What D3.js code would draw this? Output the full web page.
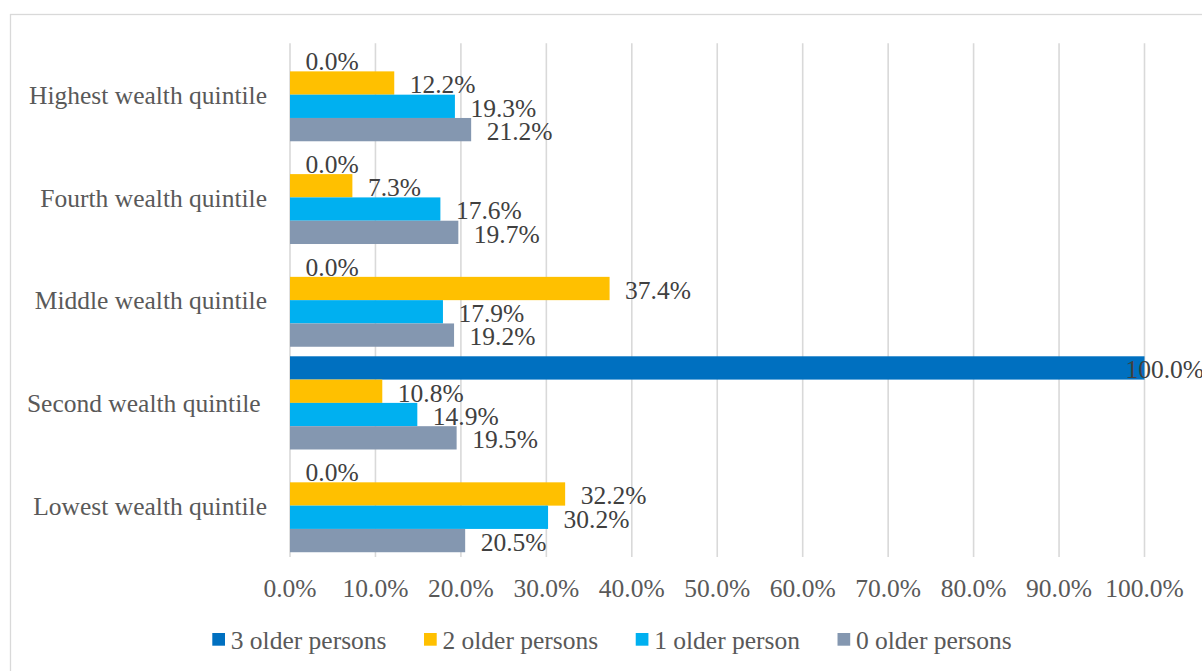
<!DOCTYPE html>
<html>
<head>
<meta charset="utf-8">
<script src="https://cdn.jsdelivr.net/npm/d3@7"></script>
<style>
  html, body { margin: 0; padding: 0; background: #fff; overflow: hidden; }
  svg { display: block; font-family: "Liberation Serif", "Times New Roman", serif; }
</style>
</head>
<body>
<svg id="chart" width="1202" height="671"></svg>
<script>
  // categories, top to bottom
  var categories = [
    "Highest wealth quintile",
    "Fourth wealth quintile",
    "Middle wealth quintile",
    "Second wealth quintile ",
    "Lowest wealth quintile"
  ];
  // series, in drawing order inside each group (top to bottom)
  var seriesNames = ["3 older persons", "2 older persons", "1 older person", "0 older persons"];
  var seriesColors = ["#0070C0", "#FFC000", "#00B0F0", "#8497B0"];

  // values as fractions, one array per series, following categories
  var threeOlder = [0.000, 0.000, 0.000, 1.000, 0.000];
  var twoOlder   = [0.122, 0.073, 0.374, 0.108, 0.322];
  var oneOlder   = [0.193, 0.176, 0.179, 0.149, 0.302];
  var zeroOlder  = [0.212, 0.197, 0.192, 0.195, 0.205];

  var xTicks = [0, 0.1, 0.2, 0.3, 0.4, 0.5, 0.6, 0.7, 0.8, 0.9, 1.0];

  var seriesValues = [threeOlder, twoOlder, oneOlder, zeroOlder];

  var svg = d3.select("#chart");
  var fontSize = 25.5;
  var textGray = "#595959";
  var labelGray = "#404040";

  /* ---- frame ---- */
  svg.append("rect")
    .attr("x", 10.5).attr("y", 14.5)
    .attr("width", 1220).attr("height", 700)
    .attr("fill", "#fff")
    .attr("stroke", "#D9D9D9")
    .attr("stroke-width", 1.3);

  /* ---- scales ---- */
  var x = d3.scaleLinear().domain([0, 1]).range([290, 1144.5]);
  var y = d3.scaleBand().domain(categories).range([43.3, 557]).padding(0);
  var gap = y.bandwidth() - 4 * 23.3;
  var ySub = d3.scaleBand()
    .domain(d3.range(seriesNames.length))
    .range([gap / 2, y.bandwidth() - gap / 2])
    .padding(0);

  /* ---- gridlines ---- */
  svg.append("g")
    .selectAll("line")
    .data(xTicks)
    .join("line")
    .attr("x1", function (d) { return x(d); })
    .attr("x2", function (d) { return x(d); })
    .attr("y1", 43.3)
    .attr("y2", 557)
    .attr("stroke", "#D9D9D9")
    .attr("stroke-width", 1.6);

  /* ---- bars ---- */
  var rows = [];
  categories.forEach(function (c, ci) {
    seriesValues.forEach(function (vals, si) {
      rows.push({ cat: c, s: si, v: vals[ci] });
    });
  });

  svg.append("g")
    .selectAll("rect")
    .data(rows)
    .join("rect")
    .attr("x", x(0))
    .attr("y", function (d) { return y(d.cat) + ySub(d.s); })
    .attr("width", function (d) { return x(d.v) - x(0); })
    .attr("height", ySub.bandwidth())
    .attr("fill", function (d) { return seriesColors[d.s]; });

  /* ---- data labels (outside end, kept inside the chart) ---- */
  var fmt = d3.format(".1%");
  var labels = svg.append("g")
    .selectAll("text")
    .data(rows)
    .join("text")
    .attr("font-size", fontSize)
    .attr("fill", labelGray)
    .attr("y", function (d) { return y(d.cat) + ySub(d.s) + ySub.bandwidth() / 2 + 10.3; })
    .text(function (d) { return fmt(d.v); });

  labels.attr("x", function (d) {
    var w = this.getComputedTextLength();
    var px = x(d.v) + 15.5;
    if (px + w > 1204) px = 1204 - w;
    return px;
  });

  /* ---- category labels ---- */
  svg.append("g")
    .selectAll("text")
    .data(categories)
    .join("text")
    .attr("x", 267)
    .attr("y", function (d) { return y(d) + y.bandwidth() / 2 + 9.3; })
    .attr("text-anchor", "end")
    .attr("font-size", fontSize)
    .attr("fill", textGray)
    .style("white-space", "pre")
    .text(function (d) { return d; });

  /* ---- x axis tick labels ---- */
  svg.append("g")
    .selectAll("text")
    .data(xTicks)
    .join("text")
    .attr("x", function (d) { return x(d); })
    .attr("y", 597)
    .attr("text-anchor", "middle")
    .attr("font-size", fontSize)
    .attr("fill", textGray)
    .text(function (d) { return fmt(d); });

  /* ---- legend ---- */
  var legend = svg.append("g");
  var lx = 212.3;
  seriesNames.forEach(function (name, i) {
    legend.append("rect")
      .attr("x", lx).attr("y", 633)
      .attr("width", 12.7).attr("height", 12.7)
      .attr("fill", seriesColors[i]);
    var t = legend.append("text")
      .attr("x", lx + 18.4)
      .attr("y", 648.5)
      .attr("font-size", fontSize)
      .attr("fill", textGray)
      .text(name);
    lx = lx + 18.4 + t.node().getComputedTextLength() + 37.5;
  });
</script>
</body>
</html>
